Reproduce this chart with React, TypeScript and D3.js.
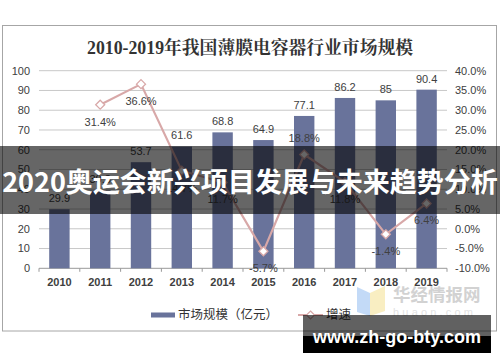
import React from 'react';
import { scaleBand, scaleLinear, line, range } from 'd3';

const W = 500;
const H = 362;
const margin = { top: 70.7, bottom: 268.3, left: 39, right: 447 };

// data
const years = ['2010', '2011', '2012', '2013', '2014', '2015', '2016', '2017', '2018', '2019'];
const marketSize = [29.9, 39.3, 53.7, 61.6, 68.8, 64.9, 77.1, 86.2, 85, 90.4];
const growth = [null, 31.4, 36.6, 14.7, 11.7, -5.7, 18.8, 11.8, -1.4, 6.4];
const leftTicks = [0, 10, 20, 30, 40, 50, 60, 70, 80, 90, 100];
const rightTicks = [-10, -5, 0, 5, 10, 15, 20, 25, 30, 35, 40];
const labelsAbove = ['2016'];

const barColor = '#69739b';
const lineColor = '#d8a8a8';
const textColor = '#404040';
const sans = "'Liberation Sans', Arial, 'Noto Sans CJK SC', sans-serif";
const cjk = "'Noto Sans CJK SC', sans-serif";

export default function App() {
  const x = scaleBand<string>()
    .domain(years)
    .range([margin.left, margin.right])
    .paddingInner(0.5)
    .paddingOuter(0.25);
  const step = x.step();
  const yL = scaleLinear().domain([0, 100]).range([margin.bottom, margin.top]);
  const yR = scaleLinear().domain([-10, 40]).range([margin.bottom, margin.top]);
  const cx = (d: string) => (x(d) as number) + x.bandwidth() / 2;

  const pts = years
    .map((yr, i) => ({ yr, v: growth[i] }))
    .filter((d) => d.v !== null) as { yr: string; v: number }[];
  const path = line<{ yr: string; v: number }>()
    .x((d) => cx(d.yr))
    .y((d) => yR(d.v))(pts);

  const diamond = (px: number, py: number, r: number) =>
    `M${px},${py - r}L${px + r},${py}L${px},${py + r}L${px - r},${py}Z`;

  return (
    <svg width={W} height={H} style={{ position: 'absolute', left: 0, top: 0, background: '#fff' }}>
      <rect x={0} y={0} width={W} height={H} fill="#fff" />
      {/* chart frame */}
      <rect x={2.5} y={25.5} width={494} height={305.5} fill="#fff" stroke="#a6a6a6" />
      <text
        x={250}
        y={54}
        textAnchor="middle"
        fontFamily={"'Liberation Serif', 'Noto Serif CJK SC', 'Noto Sans CJK SC', serif"}
        fontWeight="bold"
        fontSize={17.8}
        fill="#333"
      >
        2010-2019年我国薄膜电容器行业市场规模
      </text>

      {/* grid */}
      {leftTicks.map((t) => (
        <line key={'g' + t} x1={margin.left} x2={margin.right} y1={yL(t)} y2={yL(t)} stroke={t === 0 ? '#999' : '#c8c8c8'} />
      ))}
      {range(years.length + 1).map((i) => (
        <line key={'tk' + i} x1={margin.left + i * step} x2={margin.left + i * step} y1={yL(0)} y2={yL(0) + 3.5} stroke="#999" />
      ))}

      {/* left axis */}
      {leftTicks.map((t) => (
        <text key={'l' + t} x={30} y={yL(t)} dy="0.35em" textAnchor="end" fontFamily={sans} fontSize={11} fill={textColor}>
          {t}
        </text>
      ))}
      {/* right axis */}
      {rightTicks.map((t) => (
        <text key={'r' + t} x={455} y={yR(t)} dy="0.35em" fontFamily={sans} fontSize={11} fill={textColor}>
          {t.toFixed(1) + '%'}
        </text>
      ))}
      {/* x labels */}
      {years.map((yr) => (
        <text key={'x' + yr} x={cx(yr)} y={282} dy="0.35em" textAnchor="middle" fontFamily={sans} fontWeight="bold" fontSize={11} fill={textColor}>
          {yr}
        </text>
      ))}

      {/* bars */}
      {years.map((yr, i) => (
        <g key={'b' + yr}>
          <rect x={x(yr)} y={yL(marketSize[i])} width={x.bandwidth()} height={yL(0) - yL(marketSize[i])} fill={barColor} />
          <text x={cx(yr)} y={yL(marketSize[i]) - 11} dy="0.35em" textAnchor="middle" fontFamily={sans} fontSize={11} fill={textColor}>
            {marketSize[i]}
          </text>
        </g>
      ))}

      {/* growth line */}
      <path d={path || ''} fill="none" stroke={lineColor} strokeWidth={2.2} />
      {pts.map((d) => (
        <g key={'p' + d.yr}>
          <path d={diamond(cx(d.yr), yR(d.v), 4.5)} fill="#fff" stroke={lineColor} strokeWidth={1.3} />
          <text
            x={cx(d.yr)}
            y={yR(d.v) + (labelsAbove.includes(d.yr) ? -16 : 17)}
            dy="0.35em"
            textAnchor="middle"
            fontFamily={sans}
            fontSize={11}
            fill={textColor}
          >
            {d.v.toFixed(1) + '%'}
          </text>
        </g>
      ))}

      {/* legend */}
      <rect x={151} y={312.5} width={24} height={5} fill={barColor} />
      <text x={178} y={315} dy="0.35em" fontFamily={cjk} fontSize={12.5} fill="#333">
        市场规模（亿元）
      </text>
      <line x1={298} x2={323} y1={315} y2={315} stroke={lineColor} strokeWidth={2} />
      <path d={diamond(310.5, 315, 4)} fill="#fff" stroke={lineColor} strokeWidth={1.2} />
      <text x={326} y={315} dy="0.35em" fontFamily={cjk} fontSize={12.5} fill="#333">
        增速
      </text>

      {/* faint source logo */}
      <g opacity={0.6}>
        <path d="M357,287 L370,293 L370,316 L357,312 Z" fill="#9cc3f2" />
        <path d="M370,293 L385,286 L385,311 L370,316 Z" fill="#f6e39a" />
        <text x={393} y={295} dy="0.35em" fontFamily={cjk} fontWeight="bold" fontSize={17.5} fill="#b5b5b5">
          华经情报网
        </text>
        <text x={393} y={312} dy="0.35em" fontFamily={sans} fontSize={11} letterSpacing={3.2} fill="#cfcfcf">
          huaon.com
        </text>
      </g>

      {/* overlay banner */}
      <rect x={0} y={146} width={W} height={68} fill="rgba(0,0,0,0.6)" />
      <text x={250} y={183} dy="0.35em" textAnchor="middle" fontFamily={cjk} fontWeight="bold" fontSize={27} fill="#fff">
        2020奥运会新兴项目发展与未来趋势分析
      </text>

      {/* site watermark */}
      <rect x={303} y={315} width={188} height={21} fill="rgba(0,0,0,0.62)" />
      <rect x={303} y={336} width={188} height={17} fill="#000" />
      <text x={397} y={343} textAnchor="middle" fontFamily={sans} fontWeight="bold" fontSize={18} fill="#fff">
        www.zh-go-bty.com
      </text>
    </svg>
  );
}
